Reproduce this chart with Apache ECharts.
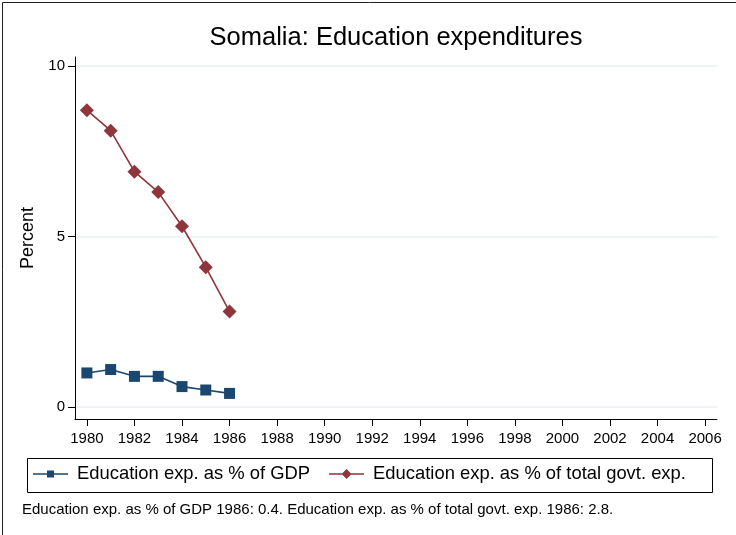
<!DOCTYPE html>
<html><head><meta charset="utf-8">
<script src="https://cdn.jsdelivr.net/npm/echarts@6/dist/echarts.min.js"></script>
<style>html,body{margin:0;padding:0;background:#fff}#c{width:736px;height:535px}</style>
</head><body><div id="c"></div>
<script>
const years = [1980, 1981, 1982, 1983, 1984, 1985, 1986];
const gdpShare = [1.0, 1.1, 0.9, 0.9, 0.6, 0.5, 0.4];
const govtShare = [8.7, 8.1, 6.9, 6.3, 5.3, 4.1, 2.8];
const xTicks = [1980,1982,1984,1986,1988,1990,1992,1994,1996,1998,2000,2002,2004,2006];
const yTicks = [0, 5, 10];
const seriesNames = ['Education exp. as % of GDP', 'Education exp. as % of total govt. exp.'];
const titleText = 'Somalia: Education expenditures';
const noteText = 'Education exp. as % of GDP 1986: 0.4. Education exp. as % of total govt. exp. 1986: 2.8.';

const navy = '#1a476f', maroon = '#90353b';
const squareIcon = 'path://M0,0 L0.01,0 L0,0.01 Z M0,10 L0.01,10 L0,9.99 Z M0,4.2 L35,4.2 L35,5.8 L0,5.8 Z M14,1.5 L21,1.5 L21,8.5 L14,8.5 Z';
const diamondIcon = 'path://M0,4.2 L35,4.2 L35,5.8 L0,5.8 Z M17.5,0 L22.5,5 L17.5,10 L12.5,5 Z';

const chart = echarts.init(document.getElementById('c'), null, {renderer: 'canvas'});
const font = 'Liberation Sans, Arial, sans-serif';
chart.setOption({
  animation: false,
  textStyle: {fontFamily: font},
  title: {text: titleText, left: 391, top: 20, textAlign: 'center',
    textStyle: {fontSize: 25.5, fontWeight: 'normal', color: '#000', fontFamily: font}},
  grid: {left: 75, right: 19, top: 57, bottom: 116},
  xAxis: {type: 'value', min: 1979.5, max: 2006.5,
    axisLine: {show: true, onZero: false, lineStyle: {color: '#000', width: 1}},
    axisTick: {show: true, length: 7, lineStyle: {color: '#000'}, customValues: xTicks},
    axisLabel: {customValues: xTicks, color: '#000', fontSize: 15, margin: 12, formatter: v => String(v)},
    splitLine: {show: false}},
  yAxis: {type: 'value', min: -0.35, max: 10.26,
    name: 'Percent', nameLocation: 'middle', nameGap: 33, nameRotate: 90,
    nameTextStyle: {color: '#000', fontSize: 18},
    axisLine: {show: true, onZero: false, lineStyle: {color: '#000', width: 1}},
    axisTick: {show: true, length: 7, lineStyle: {color: '#000'}, customValues: yTicks},
    axisLabel: {customValues: yTicks, color: '#000', fontSize: 15, margin: 10},
    splitLine: {show: true, lineStyle: {color: '#eaf2f3', width: 1.5}, customValues: yTicks}},
  legend: {left: 33, top: 465, padding: 0, itemWidth: 35, itemHeight: 10, itemGap: 19,
    textStyle: {fontSize: 18.4, color: '#000', fontFamily: font, padding: [0, 0, 0, 4]},
    data: [{name: seriesNames[0], icon: squareIcon}, {name: seriesNames[1], icon: diamondIcon}]},
  graphic: [
    {type: 'rect', left: 0, top: 0, shape: {width: 735, height: 534}, style: {fill: 'none', stroke: '#222', lineWidth: 1}, silent: true},
    {type: 'rect', left: 25, top: 456, shape: {width: 685, height: 34}, style: {fill: 'none', stroke: '#000', lineWidth: 1}, silent: true},
    {type: 'text', left: 22, top: 502, style: {text: noteText, fontSize: 15, fill: '#000', fontFamily: font}}
  ],
  series: [
    {name: seriesNames[0], type: 'line', data: years.map((y, i) => [y, gdpShare[i]]),
      symbol: 'rect', symbolSize: 11, color: navy,
      lineStyle: {width: 1.6, color: navy}, itemStyle: {color: navy}},
    {name: seriesNames[1], type: 'line', data: years.map((y, i) => [y, govtShare[i]]),
      symbol: 'diamond', symbolSize: 14, color: maroon,
      lineStyle: {width: 1.6, color: maroon}, itemStyle: {color: maroon}}
  ]
});
</script></body></html>
